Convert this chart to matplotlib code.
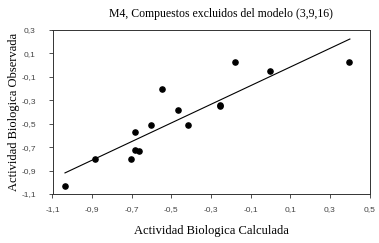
import matplotlib
matplotlib.use("Agg")
import matplotlib.pyplot as plt
from matplotlib.ticker import FuncFormatter

# valores
calc = [-1.037, -0.884, -0.702, -0.685, -0.665, -0.685, -0.603, -0.545,
        -0.465, -0.417, -0.256, -0.256, -0.177, -0.002, 0.397]
obs = [-1.031, -0.797, -0.800, -0.726, -0.737, -0.572, -0.515, -0.201,
       -0.384, -0.515, -0.338, -0.350, 0.026, -0.050, 0.029]
line_x = [-1.037, 0.401]
line_y = [-0.920, 0.223]

xticks = [-1.1, -0.9, -0.7, -0.5, -0.3, -0.1, 0.1, 0.3, 0.5]
yticks = [-1.1, -0.9, -0.7, -0.5, -0.3, -0.1, 0.1, 0.3]

fig = plt.figure(figsize=(3.79, 2.43), dpi=100)
ax = fig.add_axes([52.5 / 379, 1 - 194 / 243, 317 / 379, 164 / 243])

ax.plot(line_x, line_y, color="black", lw=0.8)
ax.scatter(calc, obs, s=14, color="black", zorder=3)

ax.set_xlim(-1.1, 0.5)
ax.set_ylim(-1.1, 0.3)
ax.set_xticks(xticks)
ax.set_yticks(yticks)
coma = FuncFormatter(lambda v, p: ("%.1f" % v).replace(".", ","))
ax.xaxis.set_major_formatter(coma)
ax.yaxis.set_major_formatter(coma)
ax.tick_params(direction="out", length=3, width=0.6, labelsize=6,
               colors="#333333", labelcolor="#444444")
ax.tick_params(axis="x", pad=6)
ax.tick_params(axis="y", pad=9)
for t in ax.get_xticklabels() + ax.get_yticklabels():
    t.set_family("Liberation Sans")
for s in ax.spines.values():
    s.set_linewidth(0.7)
    s.set_color("#333333")

ax.set_xlabel("Actividad Biologica Calculada", family="Liberation Serif",
              fontsize=9, labelpad=8)
ax.set_ylabel("Actividad Biologica Observada", family="Liberation Serif",
              fontsize=9, labelpad=1)
fig.text(221 / 379, 1 - 14 / 243, "M4, Compuestos excluidos del modelo (3,9,16)",
         family="Liberation Serif", fontsize=8.5, ha="center", va="center")

fig.savefig("out.png", dpi=100)
